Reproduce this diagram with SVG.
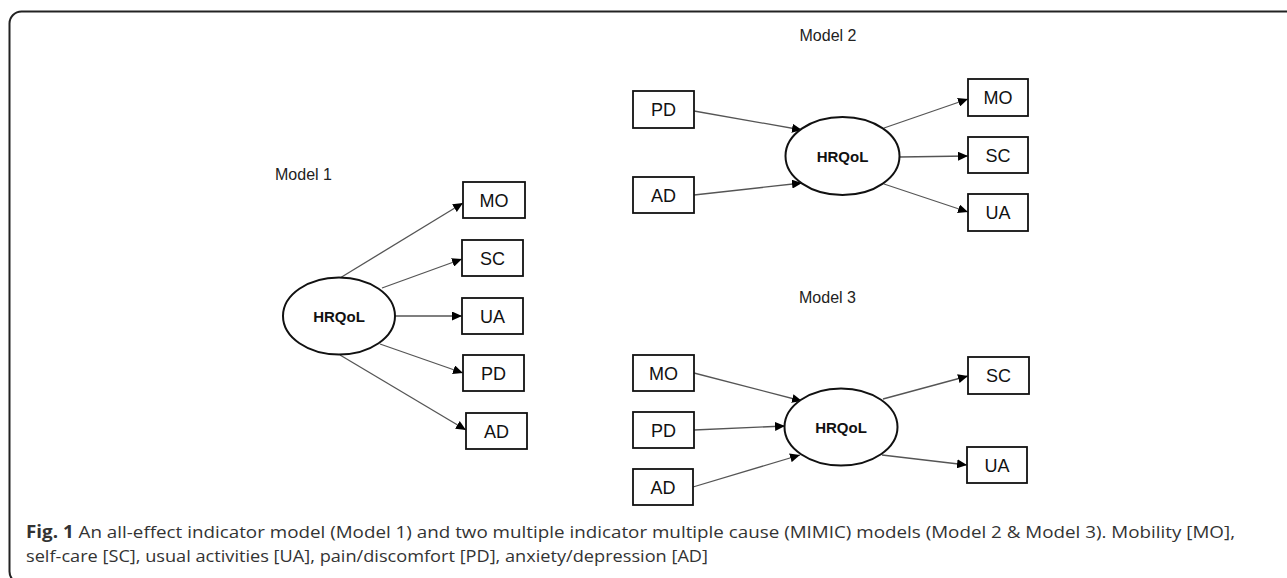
<svg xmlns="http://www.w3.org/2000/svg" width="1287" height="578" viewBox="0 0 1287 578">
<style>
.box{fill:#fff;stroke:#111;stroke-width:1.8}
.ell{fill:#fff;stroke:#111;stroke-width:2}
.lbl{font-family:"Liberation Sans",Arial,sans-serif;font-size:18px;fill:#111;text-anchor:middle}
.hq{font-family:"Liberation Sans",Arial,sans-serif;font-size:15px;font-weight:bold;fill:#111;text-anchor:middle}
.title{font-family:"Liberation Sans",Arial,sans-serif;font-size:16px;fill:#222;text-anchor:middle}
.cap{font-family:"Open Sans","Liberation Sans",sans-serif;font-size:17px;fill:#333}
.conn line{stroke:#555;stroke-width:1.3;marker-end:url(#ah)}
</style>
<defs>
<marker id="ah" markerUnits="userSpaceOnUse" markerWidth="11" markerHeight="9" refX="10" refY="4.5" orient="auto">
<path d="M0,0 L10,4.5 L0,9 z" fill="#000"/>
</marker>
</defs>
<rect x="0" y="0" width="1287" height="578" fill="#fff"/>
<rect id="frame" x="9.5" y="11.5" width="1300" height="572" rx="12" fill="none" stroke="#222" stroke-width="2"/>

<text class="title" x="303.5" y="180">Model 1</text>
<text class="title" x="828" y="41">Model 2</text>
<text class="title" x="827.5" y="303">Model 3</text>

<g class="conn" id="connectors">
<line x1="340" y1="278" x2="463" y2="203"/>
<line x1="382" y1="288" x2="462" y2="259"/>
<line x1="395" y1="316" x2="462" y2="316"/>
<line x1="380" y1="344" x2="463" y2="373"/>
<line x1="340" y1="355" x2="466" y2="430"/>
<line x1="694" y1="111" x2="802" y2="130"/>
<line x1="694" y1="195" x2="802" y2="183"/>
<line x1="884" y1="128" x2="968" y2="99"/>
<line x1="899.5" y1="157" x2="968" y2="156"/>
<line x1="884" y1="184" x2="968" y2="212"/>
<line x1="694" y1="373" x2="802" y2="401"/>
<line x1="694" y1="430" x2="785" y2="426"/>
<line x1="693" y1="487" x2="800" y2="455"/>
<line x1="883" y1="399" x2="968" y2="376"/>
<line x1="882" y1="455" x2="967" y2="465"/>
</g>

<g id="m1-hrqol"><ellipse class="ell" cx="339" cy="316" rx="56" ry="38.5"/><text class="hq" x="339" y="321.5">HRQoL</text></g>
<g id="m1-mo"><rect class="box" x="463" y="182" width="62" height="36"/><text class="lbl" x="494" y="206.5">MO</text></g>
<g id="m1-sc"><rect class="box" x="462" y="240" width="61" height="36"/><text class="lbl" x="492.5" y="264.5">SC</text></g>
<g id="m1-ua"><rect class="box" x="462" y="298" width="61" height="36"/><text class="lbl" x="492.5" y="322.5">UA</text></g>
<g id="m1-pd"><rect class="box" x="463" y="355" width="61" height="36"/><text class="lbl" x="493.5" y="379.5">PD</text></g>
<g id="m1-ad"><rect class="box" x="466" y="413" width="61" height="36"/><text class="lbl" x="496.5" y="437.5">AD</text></g>

<g id="m2-hrqol"><ellipse class="ell" cx="842.5" cy="156" rx="57" ry="39"/><text class="hq" x="842.5" y="161.5">HRQoL</text></g>
<g id="m2-pd"><rect class="box" x="633" y="91" width="61" height="37"/><text class="lbl" x="663.5" y="116">PD</text></g>
<g id="m2-ad"><rect class="box" x="633" y="177" width="61" height="36"/><text class="lbl" x="663.5" y="201.5">AD</text></g>
<g id="m2-mo"><rect class="box" x="968" y="79" width="60" height="37"/><text class="lbl" x="998" y="104">MO</text></g>
<g id="m2-sc"><rect class="box" x="968" y="137" width="60" height="36"/><text class="lbl" x="998" y="161.5">SC</text></g>
<g id="m2-ua"><rect class="box" x="968" y="194" width="60" height="37"/><text class="lbl" x="998" y="219">UA</text></g>

<g id="m3-hrqol"><ellipse class="ell" cx="841" cy="427" rx="56.5" ry="38.5"/><text class="hq" x="841" y="432.5">HRQoL</text></g>
<g id="m3-mo"><rect class="box" x="633" y="355" width="61" height="36"/><text class="lbl" x="663.5" y="379.5">MO</text></g>
<g id="m3-pd"><rect class="box" x="633" y="412" width="61" height="36"/><text class="lbl" x="663.5" y="436.5">PD</text></g>
<g id="m3-ad"><rect class="box" x="633" y="469" width="60" height="36"/><text class="lbl" x="663" y="493.5">AD</text></g>
<g id="m3-sc"><rect class="box" x="968" y="357" width="61" height="37"/><text class="lbl" x="998.5" y="382">SC</text></g>
<g id="m3-ua"><rect class="box" x="967" y="447" width="60" height="36"/><text class="lbl" x="997" y="471.5">UA</text></g>

<g id="caption">
<text class="cap" x="26" y="538" textLength="1209" lengthAdjust="spacingAndGlyphs"><tspan font-weight="bold">Fig. 1</tspan> An all-effect indicator model (Model 1) and two multiple indicator multiple cause (MIMIC) models (Model 2 &amp; Model 3). Mobility [MO],</text>
<text class="cap" x="26" y="562" textLength="682" lengthAdjust="spacingAndGlyphs">self-care [SC], usual activities [UA], pain/discomfort [PD], anxiety/depression [AD]</text>
</g>
</svg>
